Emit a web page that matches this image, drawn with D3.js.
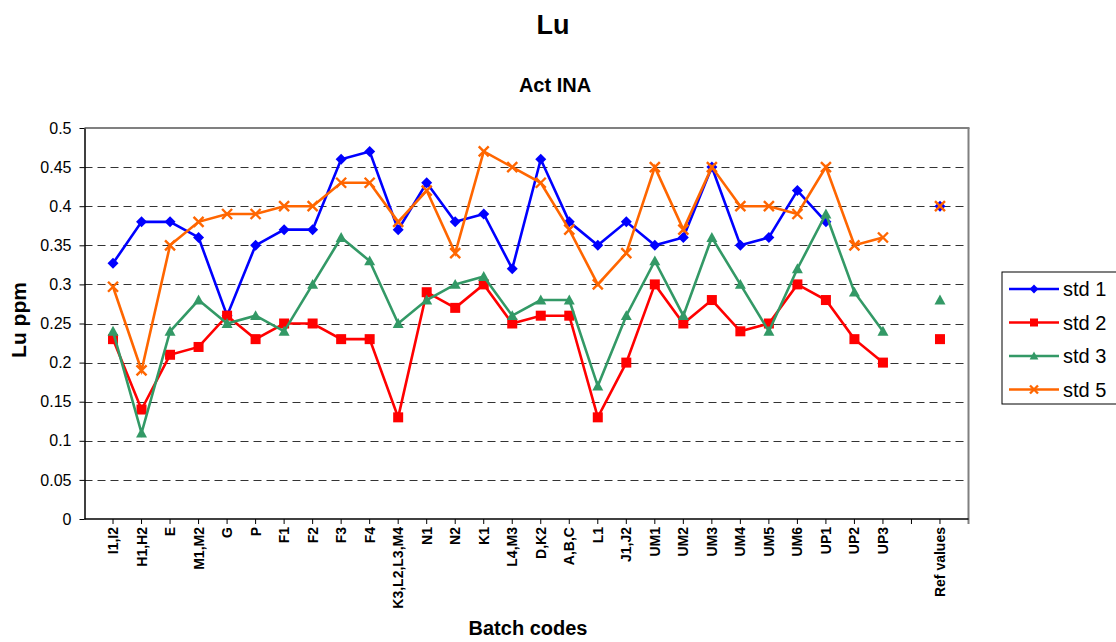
<!DOCTYPE html>
<html><head><meta charset="utf-8">
<script src="https://cdn.jsdelivr.net/npm/d3@7"></script>
<style>body{margin:0;background:#fff;font-family:"Liberation Sans",Arial,sans-serif;}</style>
</head><body><svg id="c" width="1116" height="642"></svg>
<script>
const categories = ["I1,I2","H1,H2","E","M1,M2","G","P","F1","F2","F3","F4","K3,L2,L3,M4","N1","N2","K1","L4,M3","D,K2","A,B,C","L1","J1,J2","UM1","UM2","UM3","UM4","UM5","UM6","UP1","UP2","UP3","","Ref values"];
const std1 = [0.327,0.38,0.38,0.36,0.26,0.35,0.37,0.37,0.46,0.47,0.37,0.43,0.38,0.39,0.32,0.46,0.38,0.35,0.38,0.35,0.36,0.45,0.35,0.36,0.42,0.38,null,null,null,0.40];
const std2 = [0.23,0.14,0.21,0.22,0.26,0.23,0.25,0.25,0.23,0.23,0.13,0.29,0.27,0.30,0.25,0.26,0.26,0.13,0.20,0.30,0.25,0.28,0.24,0.25,0.30,0.28,0.23,0.20,null,0.23];
const std3 = [0.24,0.11,0.24,0.28,0.25,0.26,0.24,0.30,0.36,0.33,0.25,0.28,0.30,0.31,0.26,0.28,0.28,0.17,0.26,0.33,0.26,0.36,0.30,0.24,0.32,0.39,0.29,0.24,null,0.28];
const std5 = [0.297,0.19,0.35,0.38,0.39,0.39,0.40,0.40,0.43,0.43,0.38,0.42,0.34,0.47,0.45,0.43,0.37,0.30,0.34,0.45,0.37,0.45,0.40,0.40,0.39,0.45,0.35,0.36,null,0.40];
const yTicks = [0,0.05,0.1,0.15,0.2,0.25,0.3,0.35,0.4,0.45,0.5];
const seriesNames = ["std 1","std 2","std 3","std 5"];
const seriesColors = ["#0000FF","#FF0000","#339966","#FF6600"];
const seriesData = [std1,std2,std3,std5];
const seriesSymbols = ["diamond","square","triangle","cross"];

const svg = d3.select("#c");
const L=84.5,R=968.5,T=128,B=519;
const x = d3.scaleLinear().domain([0,categories.length+1]).range([L,R]);
const y = d3.scaleLinear().domain([0,0.5]).range([B,T]);
const cx = i => x(i+1);

svg.append("text").attr("x",553).attr("y",34).attr("text-anchor","middle").attr("font-size",27).attr("font-weight","bold").text("Lu");
svg.append("text").attr("x",555).attr("y",92).attr("text-anchor","middle").attr("font-size",20).attr("font-weight","bold").text("Act INA");
svg.append("text").attr("transform","translate(26,320) rotate(-90)").attr("text-anchor","middle").attr("font-size",21).attr("font-weight","bold").text("Lu ppm");
svg.append("text").attr("x",528).attr("y",635).attr("text-anchor","middle").attr("font-size",20).attr("font-weight","bold").text("Batch codes");

svg.append("g").selectAll("line").data(yTicks.filter(t=>t>0&&t<0.5)).join("line")
  .attr("x1",L).attr("x2",R).attr("y1",d=>Math.round(y(d))+0.5).attr("y2",d=>Math.round(y(d))+0.5)
  .attr("stroke","#333").attr("stroke-width",1).attr("stroke-dasharray","8,5");

svg.append("line").attr("x1",L).attr("x2",R+1).attr("y1",T).attr("y2",T).attr("stroke","#808080").attr("stroke-width",2);
svg.append("line").attr("x1",R).attr("x2",R).attr("y1",T).attr("y2",B+5).attr("stroke","#808080").attr("stroke-width",2);

const yAx = svg.append("g").attr("transform",`translate(${L},0)`)
  .call(d3.axisLeft(y).tickValues(yTicks).tickFormat(d=>d===0?"0":String(+d.toFixed(2))).tickSize(5).tickPadding(8).tickSizeOuter(0));
yAx.selectAll("text").attr("font-size",16).attr("font-family","Liberation Sans, Arial, sans-serif").attr("fill","#000");
yAx.select(".domain").attr("stroke","#000").attr("stroke-width",1.5);

svg.append("line").attr("x1",L).attr("x2",R).attr("y1",B).attr("y2",B).attr("stroke","#000").attr("stroke-width",1.5);
svg.append("g").selectAll("line").data(d3.range(categories.length)).join("line")
  .attr("x1",d=>cx(d)).attr("x2",d=>cx(d)).attr("y1",B).attr("y2",B+5).attr("stroke","#000");
svg.append("g").selectAll("text").data(categories).join("text")
  .attr("transform",(d,i)=>`translate(${cx(i)+5},527) rotate(-90)`)
  .attr("text-anchor","end").attr("font-size",14).attr("font-weight","bold").text(d=>d);

function marker(g,sym,color,px,py,scale){
  scale=scale||1;
  if(sym==="diamond"){ const s=5.5*scale; g.append("path").attr("d",`M${px},${py-s}L${px+s},${py}L${px},${py+s}L${px-s},${py}Z`).attr("fill",color); }
  else if(sym==="square") g.append("rect").attr("x",px-5*scale).attr("y",py-5*scale).attr("width",10*scale).attr("height",10*scale).attr("fill",color);
  else if(sym==="triangle"){ const s=5.5*scale; g.append("path").attr("d",`M${px},${py-s}L${px+s},${py+s*0.8}L${px-s},${py+s*0.8}Z`).attr("fill",color); }
  else { const s=5*scale; g.append("path").attr("d",`M${px-s},${py-s}L${px+s},${py+s}M${px-s},${py+s}L${px+s},${py-s}`).attr("stroke",color).attr("stroke-width",2.4).attr("fill","none"); }
}

const line = d3.line().defined(d=>d!=null).x((d,i)=>cx(i)).y(d=>y(d));
seriesData.forEach((data,k)=>{
  const g = svg.append("g");
  g.append("path").attr("d",line(data)).attr("fill","none").attr("stroke",seriesColors[k]).attr("stroke-width",2.6);
  data.forEach((v,i)=>{ if(v!=null) marker(g,seriesSymbols[k],seriesColors[k],cx(i),y(v)); });
});

const lg = svg.append("g");
lg.append("rect").attr("x",1002).attr("y",272).attr("width",130).attr("height",132).attr("fill","#fff").attr("stroke","#000").attr("stroke-width",1);
seriesNames.forEach((n,k)=>{
  const yy = 289 + k*33.5;
  lg.append("line").attr("x1",1009).attr("x2",1059).attr("y1",yy).attr("y2",yy).attr("stroke",seriesColors[k]).attr("stroke-width",2.6);
  marker(lg,seriesSymbols[k],seriesColors[k],1034,yy,0.8);
  lg.append("text").attr("x",1063).attr("y",yy+7).attr("font-size",20).text(n);
});
</script></body></html>
